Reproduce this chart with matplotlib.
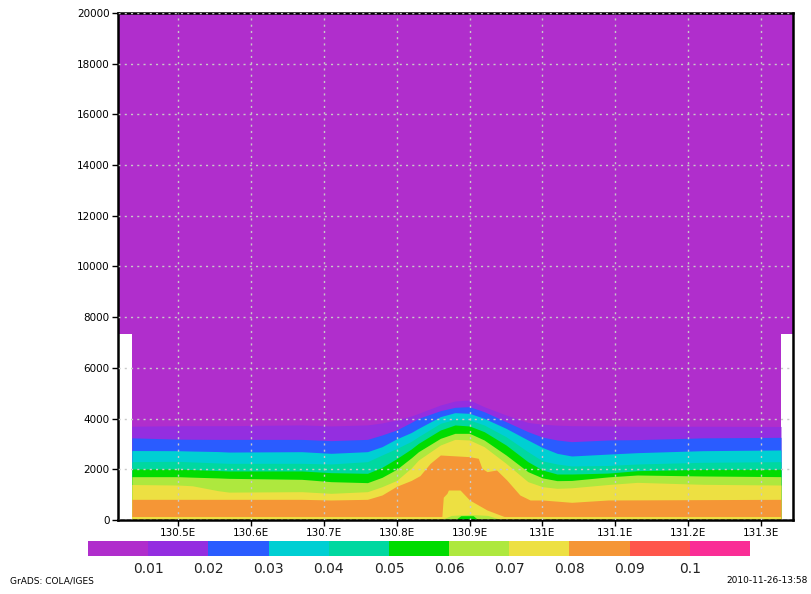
import numpy as np
import matplotlib
matplotlib.use("Agg")
import matplotlib.pyplot as plt
from matplotlib.colors import ListedColormap, BoundaryNorm
from matplotlib.cm import ScalarMappable

# Contour levels and shading colours (GrADS rainbow)
levels = [0.01, 0.02, 0.03, 0.04, 0.05, 0.06, 0.07, 0.08, 0.09, 0.1]
colors = ['#B02ECC', '#942EE0', '#2A5CFF', '#00CFD3', '#00D8A0', '#00DC00',
          '#AEE83E', '#EDE042', '#F59636', '#FF564B', '#FA2E96']

lon = [130.437, 130.50, 130.52, 130.555, 130.57, 130.67, 130.71, 130.76, 130.78,
       130.80, 130.82, 130.83, 130.86, 130.88, 130.90, 130.92, 130.95, 130.98,
       131.00, 131.02, 131.04, 131.09, 131.13, 131.22, 131.327]

# Height (m) of each contour level along lon
h_001 = [3700, 3720, 3720, 3720, 3720, 3750, 3710, 3750, 3830, 3950, 4100, 4207, 4536,
         4694, 4734, 4470, 4142, 3850, 3780, 3740, 3720, 3710, 3700, 3700, 3690]
h_002 = [3240, 3190, 3185, 3180, 3180, 3180, 3130, 3180, 3353, 3550, 3850, 4010, 4312,
         4444, 4470, 4273, 3879, 3485, 3270, 3156, 3090, 3156, 3170, 3240, 3260]
h_003 = [2740, 2735, 2720, 2700, 2680, 2695, 2630, 2695, 2892, 3200, 3450, 3616, 4076,
         4234, 4207, 4010, 3616, 3156, 2860, 2630, 2525, 2600, 2656, 2735, 2762]
h_004 = [2300, 2314, 2290, 2250, 2235, 2235, 2209, 2301, 2564, 2820, 3100, 3288, 3813,
         3971, 3945, 3748, 3287, 2695, 2330, 2209, 2130, 2150, 2209, 2275, 2301]
h_005 = [2012, 2012, 1990, 1950, 1933, 1933, 1867, 1840, 2077, 2420, 2800, 3024, 3550,
         3748, 3708, 3485, 2958, 2301, 1972, 1814, 1814, 1850, 1946, 2000, 2000]
h_006 = [1709, 1709, 1690, 1660, 1643, 1604, 1512, 1473, 1683, 2000, 2450, 2695, 3221,
         3418, 3418, 3156, 2564, 1907, 1660, 1552, 1560, 1700, 1775, 1736, 1710]
h_007 = [1400, 1380, 1350, 1157, 1100, 1117, 1052, 1117, 1315, 1560, 2050, 2367, 2958,
         3182, 3156, 2893, 2235, 1512, 1315, 1249, 1270, 1400, 1485, 1407, 1380]

# 0.08 level (top of the orange layer)
lon_008 = [130.437, 130.50, 130.67, 130.71, 130.76, 130.78, 130.80, 130.82, 130.832,
           130.846, 130.86, 130.90, 130.912, 130.917, 130.924, 130.937, 130.951,
           130.969, 130.983, 131.00, 131.04, 131.09, 131.327]
h_008 = [815, 815, 815, 789, 815, 986, 1330, 1560, 1750, 2235, 2564, 2498, 2433, 2038,
         1907, 1972, 1578, 986, 789, 789, 697, 789, 815]

# drier core over the ridge (back below 0.08)
lon_core = [130.862, 130.864, 130.869, 130.871, 130.887, 130.900, 130.924, 130.942, 130.95]
h_core = [110, 900, 1052, 1183, 1183, 789, 394, 197, 110]

# surface layer
h_sfc = 110
lon_sfc_06 = [130.86, 130.875, 130.90, 130.925, 130.945]
h_sfc_06 = [0, 180, 220, 180, 0]
lon_sfc_05 = [130.88, 130.888, 130.905, 130.912]
h_sfc_05 = [0, 170, 170, 0]

# upper part of the field covers the whole frame
lon_full = [130.418, 131.3435]
h_full = 7340

xticks = [130.5, 130.6, 130.7, 130.8, 130.9, 131.0, 131.1, 131.2, 131.3]
xlabels = ['130.5E', '130.6E', '130.7E', '130.8E', '130.9E', '131E', '131.1E', '131.2E', '131.3E']
yticks = list(range(0, 20001, 2000))

fig = plt.figure(figsize=(8.12, 5.94), dpi=100)
ax = fig.add_axes([0.1453, 0.1246, 0.8313, 0.8535])

ax.fill_between(lon_full, h_full, 20000, color=colors[0], lw=0)
ax.fill_between([lon[0], lon[-1]], 0, h_full, color=colors[0], lw=0)
for i, h in enumerate([h_001, h_002, h_003, h_004, h_005, h_006, h_007]):
    ax.fill_between(lon, 0, h, color=colors[i + 1], lw=0)
ax.fill_between(lon_008, 0, h_008, color=colors[8], lw=0)
ax.fill_between(lon_core, 0, h_core, color=colors[7], lw=0)
ax.fill_between([lon[0], lon[-1]], 0, h_sfc, color=colors[7], lw=0)
ax.fill_between(lon_sfc_06, 0, h_sfc_06, color=colors[6], lw=0)
ax.fill_between(lon_sfc_05, 0, h_sfc_05, color=colors[5], lw=0)

ax.set_xlim(130.418, 131.3435)
ax.set_ylim(0, 20000)
ax.set_xticks(xticks)
ax.set_xticklabels(xlabels)
ax.set_yticks(yticks)
ax.tick_params(direction='out', length=4, width=1, labelsize=7.5, pad=2)
ax.grid(True, color='#C8C8C8', linestyle=(0, (1.5, 3)), linewidth=1)
ax.set_axisbelow(False)
for s in ax.spines.values():
    s.set_linewidth(1.8)

# colour bar
cax = fig.add_axes([0.1084, 0.064, 0.8153, 0.0253])
bounds = [0.0] + levels + [0.11]
sm = ScalarMappable(cmap=ListedColormap(colors), norm=BoundaryNorm(bounds, len(colors)))
cb = fig.colorbar(sm, cax=cax, orientation='horizontal', ticks=levels, spacing='uniform')
cb.set_ticklabels([str(v) for v in levels])
cb.outline.set_visible(False)
cax.minorticks_off()
cax.tick_params(which='both', length=0, labelsize=10, pad=4, labelcolor='#222222')

fig.text(0.012, 0.015, 'GrADS: COLA/IGES', fontsize=6.5, ha='left', va='bottom')
fig.text(0.995, 0.015, '2010-11-26-13:58', fontsize=6.5, ha='right', va='bottom')

fig.savefig('out.png', dpi=100)
